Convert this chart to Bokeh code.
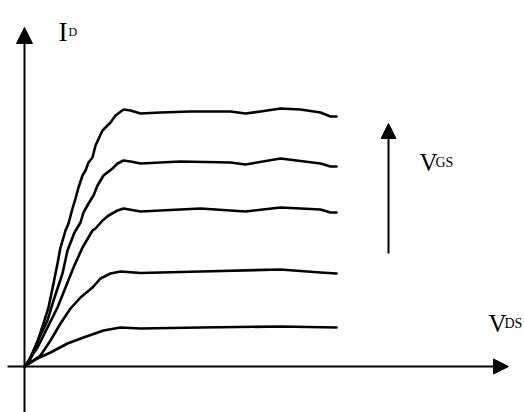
from bokeh.plotting import figure
from bokeh.models import Range1d, Arrow, NormalHead
from bokeh.core.properties import value
from bokeh.embed import file_html
from bokeh.resources import INLINE

# Output characteristic curves (arbitrary units): V_DS on x, I_D on y
c1_x = [0, 0.4, 1.1, 1.9, 2.4, 2.9, 3.3, 3.6, 4.1, 4.4, 4.8, 5.1, 5.4, 5.8, 6.1, 6.4, 6.8, 7.1, 7.8, 8.6, 9.1, 9.9, 10.6, 11.6, 13.6, 16.6, 20.6, 22.1, 23.6, 25.6, 27.6, 29.6, 30.6, 31.2]
c1_y = [0, 0.3, 1.9, 4.3, 5.9, 8.3, 10.3, 11.9, 13.6, 14.3, 15.8, 16.8, 17.9, 19.1, 19.6, 20.4, 20.9, 22.1, 23.6, 24.4, 25.1, 25.7, 25.6, 25.3, 25.4, 25.5, 25.5, 25.3, 25.5, 25.8, 25.7, 25.4, 25.0, 25.0]

c2_x = [0, 0.4, 1.3, 2.3, 2.9, 3.8, 4.3, 5.0, 5.6, 5.9, 6.4, 6.9, 7.3, 7.9, 8.8, 9.3, 9.9, 10.6, 11.6, 15.6, 20.6, 22.1, 25.6, 29.6, 30.6, 31.2]
c2_y = [0, 0.5, 2.5, 4.6, 6.6, 9.3, 11.6, 13.4, 14.4, 15.4, 16.3, 17.1, 18.1, 19.1, 19.8, 20.3, 20.6, 20.5, 20.3, 20.5, 20.4, 20.2, 20.8, 20.3, 20.0, 20.0]

c3_x = [0, 1.3, 2.3, 3.3, 4.1, 4.9, 5.8, 6.8, 7.1, 7.8, 8.4, 9.3, 9.9, 11.6, 17.6, 22.1, 25.6, 29.6, 30.6, 31.2]
c3_y = [0, 1.9, 3.9, 5.9, 7.9, 9.9, 11.9, 13.6, 13.8, 14.6, 15.1, 15.6, 15.8, 15.5, 15.8, 15.5, 15.9, 15.7, 15.4, 15.4]

c4_x = [0, 1.6, 2.6, 3.6, 4.6, 5.6, 6.8, 7.6, 8.6, 9.6, 11.6, 17.6, 25.6, 29.6, 31.2]
c4_y = [0, 1.1, 2.6, 4.3, 5.8, 6.9, 7.9, 8.8, 9.3, 9.5, 9.35, 9.5, 9.7, 9.4, 9.3]

c5_x = [0, 1.3, 2.6, 4.3, 5.9, 7.9, 9.6, 11.6, 17.6, 25.6, 31.2]
c5_y = [0, 0.8, 1.4, 2.3, 2.9, 3.6, 3.9, 3.8, 3.9, 4.0, 3.9]

curves_x = [c1_x, c2_x, c3_x, c4_x, c5_x]
curves_y = [c1_y, c2_y, c3_y, c4_y, c5_y]

# Labels: main letter + subscript
label_main = ["I", "V", "V"]
label_sub = ["D", "GS", "DS"]

FONT = "Liberation Serif"

p = figure(width=524, height=412, output_backend="svg", toolbar_location=None,
           x_range=Range1d(-2.4, 50.0), y_range=Range1d(-4.6, 36.6),
           x_axis_type=None, y_axis_type=None, min_border=0)
p.grid.visible = False
p.outline_line_color = None
p.background_fill_color = "white"
p.border_fill_color = "white"

for xs, ys in zip(curves_x, curves_y):
    p.line(xs, ys, line_color="black", line_width=2.6, line_join="round", line_cap="round")

# Axes as arrows
p.add_layout(Arrow(end=NormalHead(size=15, fill_color="black", line_color="black"),
                   x_start=-1.7, y_start=0, x_end=48.4, y_end=0,
                   line_color="black", line_width=2))
p.add_layout(Arrow(end=NormalHead(size=16, fill_color="black", line_color="black"),
                   x_start=0, y_start=-4.6, x_end=0, y_end=33.9,
                   line_color="black", line_width=2))
# V_GS increasing arrow
p.add_layout(Arrow(end=NormalHead(size=15, fill_color="black", line_color="black"),
                   x_start=36.4, y_start=11.3, x_end=36.4, y_end=24.3,
                   line_color="black", line_width=2))

main_x = [3.4, 39.5, 46.4]
main_y = [33.5, 20.4, 4.3]
sub_dx = [1.0, 1.6, 1.6]
main_size = ["27px", "25px", "25px"]
sub_size = ["12px", "14px", "14px"]

p.text(x=main_x, y=main_y, text=label_main, text_font=value(FONT),
       text_font_size=main_size, text_color="black", text_baseline="alphabetic")
p.text(x=[mx + d for mx, d in zip(main_x, sub_dx)], y=main_y, text=label_sub,
       text_font=value(FONT), text_font_size=sub_size, text_color="black",
       text_baseline="alphabetic")

open("out.html", "w").write(file_html(p, INLINE))
